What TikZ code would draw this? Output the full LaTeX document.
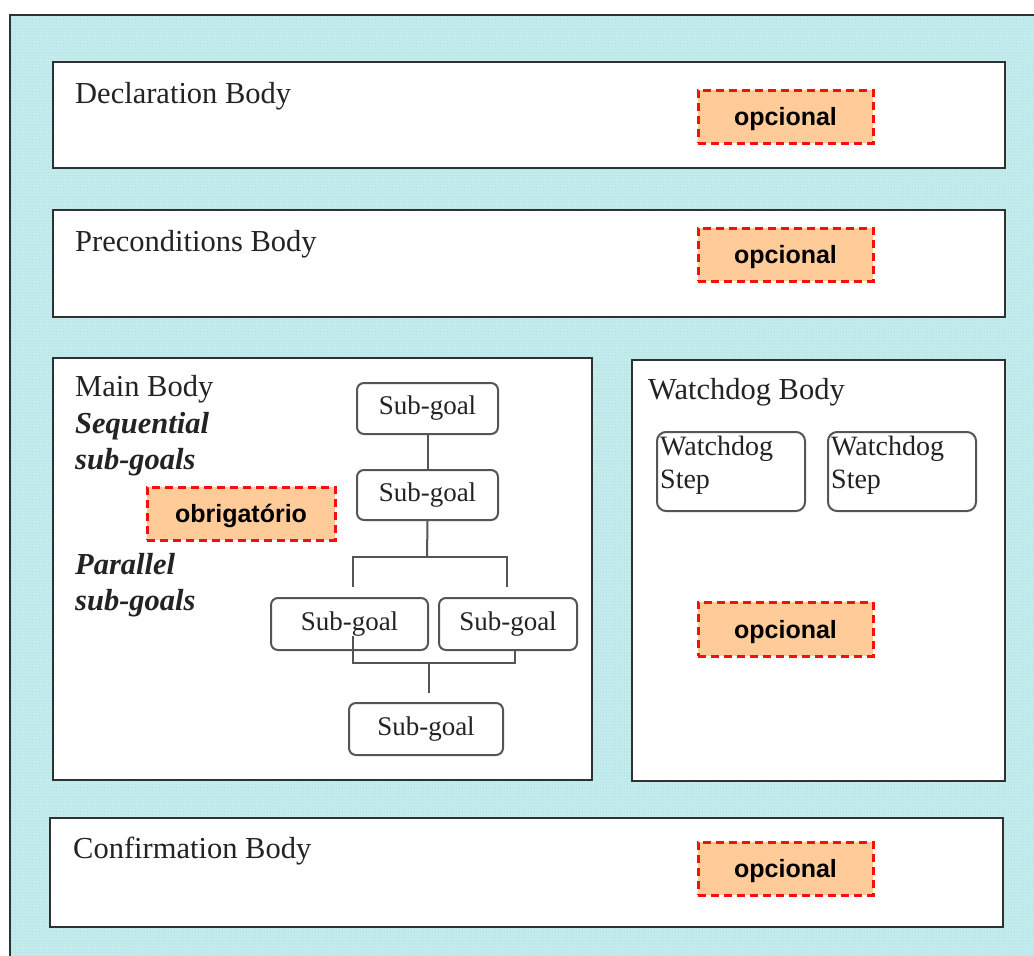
\documentclass[tikz,border=0pt]{standalone}
\usepackage{fontspec}
\setmainfont{Liberation Serif}
\newfontfamily\notefont{Liberation Sans}
\usetikzlibrary{patterns}
\definecolor{paper}{RGB}{196,236,236}
\definecolor{paperdots}{RGB}{150,205,208}
\definecolor{frame}{RGB}{45,50,50}
\definecolor{goalline}{RGB}{85,85,85}
\definecolor{notefill}{RGB}{255,204,153}
\definecolor{notered}{RGB}{245,15,15}
\definecolor{ink}{RGB}{35,35,35}
\tikzset{
  body/.style={draw=frame, line width=2pt, fill=white, inner sep=0pt},
  goal/.style={draw=goalline, line width=2pt, rounded corners=7pt, fill=white,
    inner sep=0pt, font=\fontsize{27}{31}\selectfont, text=ink},
  wstep/.style={draw=goalline, line width=2pt, rounded corners=9pt, fill=white,
    inner sep=0pt, minimum width=148pt, minimum height=79pt},
  steptext/.style={align=left, anchor=north west, inner sep=0pt,
    font=\fontsize{28}{33}\selectfont, text=ink},
  title/.style={anchor=base west, inner sep=0pt,
    font=\fontsize{30.5}{36}\selectfont, text=ink},
  subtitle/.style={anchor=base west, inner sep=0pt,
    font=\fontsize{30.5}{36}\selectfont\bfseries\itshape, text=ink},
  note/.style={draw=notered, fill=notefill, line width=3pt, dash pattern=on 8pt off 5pt,
    inner sep=0pt, text depth=0pt,
    font=\notefont\bfseries\fontsize{25}{30}\selectfont, text=black},
  link/.style={draw=goalline, line width=2pt},
}
\begin{document}
\begin{tikzpicture}[x=1pt, y=-1pt]
\useasboundingbox (0,0) rectangle (1034,956);
\clip (0,0) rectangle (1034,956);
\fill[white] (0,0) rectangle (1034,956);

% outer frame with dotted cyan backdrop
\fill[paper] (10,15) rectangle (1050,970);
\fill[pattern=dots, pattern color=paperdots] (10,15) rectangle (1050,970);
\draw[frame, line width=2pt] (10,970) -- (10,15) -- (1050,15);

% the four bodies
\node[body, minimum width=952pt, minimum height=106pt] (decl) at (529,115) {};
\node[body, minimum width=952pt, minimum height=107pt] (pre) at (529,263.5) {};
\node[body, minimum width=539pt, minimum height=422pt] (main) at (322.5,569) {};
\node[body, minimum width=373pt, minimum height=421pt] (watch) at (818.5,570.5) {};
\node[body, minimum width=953pt, minimum height=109pt] (conf) at (526.5,872.5) {};

\node[title] (declT) at (75,103) {Declaration Body};
\node[title] (preT) at (75,251) {Preconditions Body};
\node[title] (mainT) at (75,396) {Main Body};
\node[subtitle] (seqA) at (75,433) {Sequential};
\node[subtitle] (seqB) at (75,469) {sub-goals};
\node[subtitle] (parA) at (75,574) {Parallel};
\node[subtitle] (parB) at (75,610) {sub-goals};
\node[title] (watchT) at (648,399) {Watchdog Body};
\node[title] (confT) at (73,858) {Confirmation Body};

% sub-goals of the main body
\node[goal, minimum width=141pt, minimum height=51pt] (sg1) at (427.5,408.5) {Sub-goal};
\node[goal, minimum width=141pt, minimum height=50pt] (sg2) at (427.5,495) {Sub-goal};
\node[goal, minimum width=157pt, minimum height=52pt] (sg3) at (349.5,624) {Sub-goal};
\node[goal, minimum width=138pt, minimum height=52pt] (sg4) at (508,624) {Sub-goal};
\node[goal, minimum width=154pt, minimum height=52pt] (sg5) at (426,729) {Sub-goal};

\coordinate (fork) at (427,557);
\coordinate (forkL) at (353,587);
\coordinate (forkR) at (507,587);
\coordinate (joinL) at (353,636);
\coordinate (joinR) at (515,650);
\coordinate (join) at (429,663);
\coordinate (joinEnd) at (429,693);

\draw[link] (sg1.south) -- (sg2.north);
\draw[link] (sg2.south) -- (fork);
\draw[link] (forkL) |- (fork) -| (forkR);
\draw[link] (joinL) |- (join) -| (joinR);
\draw[link] (join) -- (joinEnd);

% watchdog steps
\node[wstep] (ws1) at (731,471.5) {};
\node[wstep] (ws2) at (902,471.5) {};
\node[steptext] (ws1T) at (660,436) {Watchdog\\Step};
\node[steptext] (ws2T) at (831,436) {Watchdog\\Step};

% remarks
\node[note, minimum width=175pt, minimum height=53pt] (n1) at (785.5,116.5) {opcional};
\node[note, minimum width=175pt, minimum height=53pt] (n2) at (785.5,254.5) {opcional};
\node[note, minimum width=188pt, minimum height=53pt] (n3) at (241,513.5) {obrigatório};
\node[note, minimum width=175pt, minimum height=54pt] (n4) at (785.5,629) {opcional};
\node[note, minimum width=175pt, minimum height=53pt] (n5) at (785.5,868.5) {opcional};
\end{tikzpicture}
\end{document}
